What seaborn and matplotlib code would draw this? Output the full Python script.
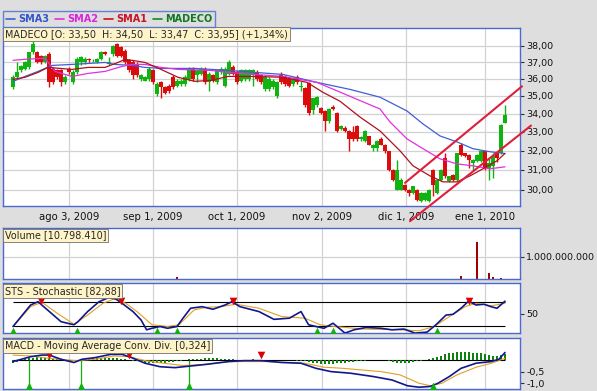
import numpy as np
import matplotlib
matplotlib.use("Agg")
import matplotlib.pyplot as plt
import seaborn as sns
from matplotlib.lines import Line2D
from matplotlib.ticker import FixedLocator, NullLocator

sns.set_style("white")
plt.rcParams['font.family'] = ['DejaVu Sans']

# ---------------- data ----------------
opens = [35.5, 36.1, 36.5, 36.6, 36.7, 37.6, 37.65, 37.4, 37.0, 37.5,
         36.6, 36.5, 36.5, 35.8, 36.6, 35.8, 36.4, 37.0, 37.0, 37.2,
         37.1, 37.0, 37.2, 37.65, 36.9, 37.5, 38.1, 37.9, 37.7, 37.1,
         37.0, 36.9, 36.0, 35.9, 36.0, 36.5, 35.1, 35.8, 35.5, 35.6,
         36.1, 35.6, 35.7, 35.7, 36.0, 36.6, 36.2, 36.3, 36.6, 35.8,
         36.2, 35.8, 36.4, 35.6, 36.3, 36.7, 36.4, 35.9, 36.0, 36.0,
         36.2, 36.4, 36.2, 35.4, 35.4, 35.5, 35.0, 36.2, 36.1, 36.0,
         35.7, 36.1, 35.5, 35.46, 35.76, 34.2, 34.5, 34.33, 34.15, 33.6,
         34.4, 34.05, 33.13, 33.22, 33.05, 33.0, 33.3, 32.6, 32.5, 32.77,
         32.14, 32.14, 32.59, 32.32, 31.96, 31.0, 30.0, 30.0, 30.25, 30.0,
         29.84, 30.0, 29.44, 29.52, 29.44, 31.0, 29.84, 30.5, 31.61, 30.42,
         30.75, 30.5, 32.32, 31.88, 31.79, 31.35, 31.44, 31.44, 31.96, 31.09,
         31.18, 31.88, 31.88, 33.5]
closes = [36.1, 36.4, 36.75, 37.0, 37.6, 38.1, 37.0, 37.0, 37.4, 35.8,
          35.8, 36.1, 35.8, 36.1, 36.4, 36.4, 37.2, 37.3, 37.2, 37.1,
          37.12, 37.2, 37.6, 37.5, 37.0, 38.0, 37.4, 37.4, 37.0, 36.5,
          36.2, 36.2, 36.2, 36.1, 36.6, 35.8, 35.7, 35.5, 35.2, 35.3,
          35.5, 35.9, 35.9, 36.1, 36.6, 36.0, 36.5, 36.6, 35.8, 36.3,
          35.9, 36.5, 36.6, 36.6, 37.0, 36.3, 35.8, 36.5, 36.5, 36.5,
          36.5, 36.0, 35.8, 36.1, 36.0, 35.9, 35.8, 35.8, 35.7, 35.6,
          36.0, 35.8, 35.6, 34.5, 34.05, 34.87, 34.96, 34.05, 33.6, 34.24,
          34.24, 33.05, 33.31, 33.05, 32.6, 32.6, 32.6, 32.7, 33.04, 32.32,
          32.32, 32.5, 32.32, 31.96, 31.0, 30.5, 31.0, 30.5, 30.0, 29.84,
          30.17, 29.52, 29.84, 29.84, 30.0, 30.25, 30.5, 31.0, 30.67, 30.67,
          30.5, 31.88, 31.79, 31.7, 31.53, 31.53, 31.79, 31.96, 31.09, 31.35,
          31.7, 31.61, 33.4, 33.95]
highs = [36.2, 37.0, 36.8, 37.05, 37.65, 38.3, 37.7, 37.45, 37.45, 37.6,
         36.7, 36.6, 36.6, 36.2, 36.7, 36.5, 37.3, 37.4, 37.3, 37.25,
         37.2, 37.25, 37.7, 37.7, 37.3, 38.05, 38.2, 38.0, 37.8, 37.2,
         37.1, 37.0, 36.3, 36.15, 36.7, 36.6, 35.8, 35.9, 35.6, 35.7,
         36.2, 36.0, 36.0, 36.2, 36.7, 36.7, 36.6, 36.7, 36.7, 36.4,
         36.3, 36.6, 36.7, 36.7, 37.1, 36.8, 36.5, 36.6, 36.6, 36.6,
         36.6, 36.5, 36.3, 36.2, 36.1, 36.0, 35.9, 36.4, 36.2, 36.1,
         36.1, 36.2, 35.9, 35.5, 35.8, 34.9, 35.0, 34.4, 34.2, 34.3,
         34.5, 34.1, 33.4, 33.3, 33.1, 33.3, 33.35, 32.8, 33.1, 32.8,
         32.35, 32.55, 32.7, 32.35, 32.0, 31.05, 31.5, 30.6, 30.3, 30.05,
         30.2, 30.05, 29.9, 29.9, 30.05, 31.05, 30.55, 31.05, 31.88, 30.7,
         30.8, 31.9, 32.41, 31.9, 31.8, 31.55, 31.8, 32.0, 32.0, 31.61,
         31.9, 31.9, 33.45, 34.5]
lows = [35.4, 36.0, 36.4, 36.5, 36.6, 37.5, 36.95, 36.9, 36.95, 35.5,
        35.7, 36.0, 35.6, 35.7, 36.3, 35.7, 36.3, 36.8, 36.9, 37.0,
        37.0, 36.95, 37.15, 37.45, 36.8, 37.4, 37.3, 37.3, 36.9, 36.4,
        36.0, 36.1, 35.9, 35.85, 35.9, 35.7, 35.0, 34.9, 35.1, 35.2,
        35.4, 35.5, 35.6, 35.6, 35.9, 35.9, 35.8, 36.2, 35.7, 35.3,
        35.8, 35.7, 36.3, 35.5, 36.2, 36.2, 35.7, 35.8, 35.9, 35.9,
        35.6, 35.9, 35.7, 35.3, 35.3, 35.4, 34.9, 35.7, 35.6, 35.5,
        35.6, 35.7, 35.3, 34.4, 33.95, 34.0, 34.4, 34.0, 33.05, 33.5,
        34.2, 33.0, 33.1, 33.0, 32.0, 32.5, 32.5, 32.5, 32.45, 32.3,
        32.0, 32.0, 32.3, 31.9, 30.95, 30.45, 30.0, 30.0, 29.95, 29.7,
        29.8, 29.45, 29.4, 29.45, 29.4, 29.7, 29.8, 30.45, 30.6, 30.4,
        30.45, 30.45, 31.7, 31.65, 31.1, 31.0, 31.4, 31.4, 31.0, 30.5,
        30.58, 31.4, 31.8, 33.47]

date_labels = ["ago 3, 2009", "sep 1, 2009", "oct 1, 2009",
               "nov 2, 2009", "dic 1, 2009", "ene 1, 2010"]
date_pos = [14, 35, 56, 77.25, 98.25, 118]
price_ticks = [30, 31, 32, 33, 34, 35, 36, 37, 38]

sma1_x = [0, 3, 6.25, 8.75, 14.75, 18.75, 23, 26.25, 28, 29.75, 33, 37, 41.25,
          45.5, 49.5, 53.75, 60.5, 67.5, 73.5, 77.5, 81.75, 86.75, 91.75,
          96.75, 100, 104.25, 107.5, 111, 114.25, 117.5, 121, 123]
sma1_y = [35.97, 36.09, 36.38, 36.68, 36.56, 36.68, 36.68, 36.98, 37.17, 37.11,
          36.98, 36.56, 36.09, 35.85, 35.91, 36.14, 36.14, 36.09, 35.79, 35.21,
          34.70, 33.81, 33.05, 31.99, 31.21, 30.70, 30.40, 30.40, 30.70, 31.06,
          31.47, 31.85]
sma2_x = [0, 3, 8, 10.5, 14.75, 18.75, 23, 27.25, 29.75, 33, 37, 41.25, 49.5,
          53.75, 60.5, 67.5, 76, 84.25, 91.75, 94.25, 98.5, 102.5, 106.75,
          111, 115, 119.25, 123]
sma2_y = [37.11, 37.17, 37.24, 36.44, 36.14, 36.32, 36.44, 36.74, 36.86, 36.86,
          36.68, 36.56, 36.50, 36.38, 36.26, 36.14, 35.79, 34.98, 34.26, 33.54,
          32.62, 32.10, 31.57, 31.31, 31.21, 31.06, 31.16]
sma3_x = [0, 3, 6.25, 9.75, 14.75, 23, 25.5, 29.75, 33, 37, 45.5, 53.75, 60.5,
          67.5, 76, 84.25, 91.75, 98.5, 102.5, 106.75, 111, 115, 119.25, 123]
sma3_y = [35.85, 36.14, 36.44, 36.80, 36.86, 36.98, 36.86, 36.80, 36.68, 36.62,
          36.62, 36.50, 36.38, 36.26, 35.79, 35.38, 34.93, 34.15, 33.43, 32.78,
          32.46, 32.10, 31.94, 31.85]

trend_up_x = [98, 127.25]
trend_up_y = [30.35, 35.56]
trend_lo_x = [99.25, 129.5]
trend_lo_y = [28.5, 33.34]

vol_idx = [41, 112, 116, 119, 120, 122]
vol_val = [0.09e9, 0.13e9, 1.67e9, 0.25e9, 0.10e9, 0.05e9]

sts_x = [0, 4.4, 6.25, 9.1, 12, 15.25, 16.25, 18.65, 21.5, 23.9, 25.75, 27.25,
         30, 32, 33.4, 34.75, 36.75, 38.65, 41, 42.5, 44.4, 47.25, 50, 53,
         54.75, 56.75, 61.5, 65.25, 69.1, 72, 73.9, 75.75, 77.75, 80, 83,
         85.25, 88.25, 92, 94.75, 97.75, 100.5, 103.5, 105.75, 108.25, 110,
         112, 113.9, 115.75, 117.75, 119.5, 121, 123]
sts_k = [17.5, 73, 81.5, 56, 30, 22, 30, 56, 81.5, 92, 88.5, 77.5,
         56, 34.6, 9, 13, 17.5, 13, 17.5, 39, 64.6, 68.7, 62, 73,
         81.5, 68.7, 56, 36, 39, 56, 22, 17.5, 13, 26, 0.5,
         9, 15, 13, 9, 11, 0.5, 3, 22, 47, 49,
         64.6, 83, 73, 75, 68.7, 64.6, 82.9]
std_x = [0, 4.4, 7.25, 11, 15.25, 18.65, 22.5, 25.25, 28.2, 31, 34.75, 38.65,
         41.5, 45.25, 48.2, 52, 55.75, 61.5, 67.25, 73, 76.75, 80.5, 87.25,
         96.75, 101.5, 105.25, 109.1, 113, 115.75, 119.5, 123]
std_d = [17.5, 68.7, 80, 52, 23.6, 47, 77.5, 88.5, 77.5, 56, 22, 17.5,
         22, 60, 67, 68.7, 75, 64.6, 43, 39, 22, 17.5, 11,
         9, 6.4, 17.5, 43, 68.7, 77.5, 71, 77.5]
sts_sell = [7, 27, 55, 114]
sts_buy = [0, 16, 36, 41, 76, 80, 106]

macd_x = [0, 4.4, 7.25, 9.1, 12, 15.25, 17.25, 20.5, 24.4, 27.25, 29.5, 33,
          36.75, 40.5, 44.4, 48.25, 53.9, 57.75, 62, 67.25, 72, 75.75, 79.5,
          84.4, 90, 94.75, 98.65, 101.5, 104.25, 106.25, 109.1, 112, 115.75,
          119.5, 121.5, 123]
macd_v = [-0.07, 0.14, 0.21, 0.21, 0.03, -0.11, 0.03, 0.10, 0.24, 0.24, 0.11,
          -0.14, -0.29, -0.33, -0.26, -0.19, -0.07, -0.03, -0.03, -0.11, -0.14,
          -0.36, -0.50, -0.57, -0.71, -0.86, -1.11, -1.17, -1.14, -1.00, -0.71,
          -0.36, -0.14, -0.07, 0.03, 0.32]
sig_x = [0, 4.4, 9.1, 15.8, 20.5, 25.3, 29.1, 33, 37.7, 42.5, 48.2, 53.9,
         63.4, 72.9, 77.7, 82.5, 87.2, 92, 96.75, 101.5, 104.4, 107.2, 111,
         115.8, 119.6, 123]
sig_v = [0.21, 0.17, 0.07, -0.03, 0.03, 0.17, 0.14, -0.03, -0.14, -0.24, -0.19,
         -0.07, -0.07, -0.14, -0.31, -0.36, -0.43, -0.50, -0.64, -1.0, -1.11,
         -1.0, -0.64, -0.31, -0.14, 0.07]
hist_v = [-0.12, -0.10, 0.0, 0.03,
          0.08, 0.1, 0.12, 0.12, 0.1, 0.08,
          0.03, 0.02, -0.02, -0.04, -0.05, -0.03, 0.0,
          0.03, 0.05, 0.06, 0.07, 0.08, 0.09, 0.1, 0.1, 0.09, 0.08, 0.06, 0.04,
          0.0, -0.03,
          -0.06, -0.09, -0.11, -0.13, -0.14, -0.14, -0.13, -0.12, -0.1, -0.08, -0.06, -0.04,
          -0.01,
          0.02, 0.04, 0.05, 0.06, 0.07, 0.08, 0.08, 0.07, 0.06, 0.05, 0.04, 0.03,
          0.01, 0.0, -0.01, 0.01, 0.02, 0.01, 0.0, -0.01, -0.02, -0.01, 0.0, 0.01,
          0.0, -0.01, -0.02, -0.03, -0.04, -0.06,
          -0.09, -0.12, -0.15, -0.17, -0.18, -0.17, -0.16, -0.15, -0.14, -0.12,
          -0.1, -0.08, -0.06, -0.05, -0.04, -0.02,
          0.0, 0.01, 0.0, -0.02, -0.05,
          -0.09, -0.12, -0.14, -0.14, -0.12, -0.1, -0.06,
          -0.03, 0.0, 0.03,
          0.07, 0.12, 0.18, 0.24, 0.29, 0.32, 0.34, 0.35, 0.35, 0.34, 0.32, 0.3,
          0.28, 0.26, 0.22, 0.17, 0.15, 0.2,
          0.26]
macd_sell = [9, 29, 62]
macd_buy = [4, 17, 44, 105]
macd_buy_lines = [4, 17, 44]

# ---------------- style ----------------
BG = '#dedede'
BORDER = '#4a6ad0'
GRID = '#d2d2d2'
GREEN = '#10b410'
RED = '#dc0c0c'
BOX = dict(boxstyle='square,pad=0.18', fc='#fff3c8', ec='#707070', lw=0.6)
XL = (-2.5, 126.75)
YFS = 6.8

fig = plt.figure(figsize=(5.97, 3.91), dpi=100, facecolor=BG)
L, W = 3 / 597, 517 / 597
ax = fig.add_axes([L, 1 - 206 / 391, W, 178 / 391])
axv = fig.add_axes([L, 1 - 279 / 391, W, 51 / 391])
axs = fig.add_axes([L, 1 - 333.3 / 391, W, 50 / 391])
axm = fig.add_axes([L, 1 - 389.3 / 391, W, 51 / 391])

for a in (ax, axv, axs, axm):
    a.set_facecolor('white')
    a.set_xlim(*XL)
    for s in a.spines.values():
        s.set_color(BORDER)
        s.set_linewidth(1.0)
    a.xaxis.set_major_locator(FixedLocator(date_pos))
    a.grid(True, axis='x', color=GRID, lw=0.9)
    a.yaxis.tick_right()
    a.tick_params(axis='y', which='major', length=3, width=0.8, color='#333333',
                  labelsize=YFS, pad=1.5, labelcolor='#111111')
    a.tick_params(axis='x', length=0)
    a.set_axisbelow(True)

# ---- main price panel ----
ax.set_yscale('log')
ax.set_ylim(29.22, 39.13)
ax.yaxis.set_major_locator(FixedLocator(price_ticks))
ax.yaxis.set_minor_locator(NullLocator())
ax.set_yticklabels([f"{t:.2f}".replace('.', ',') for t in price_ticks])
ax.grid(True, axis='y', color=GRID, lw=0.9)
ax.set_xticklabels(date_labels, fontsize=7.3)
ax.tick_params(axis='x', pad=4, labelcolor='#111111')

o = np.array(opens); c = np.array(closes)
h = np.array(highs); lo = np.array(lows)
idx = np.arange(len(o))
cols = np.where(c >= o, GREEN, RED)
ax.vlines(idx, lo, h, colors=cols, lw=1.0, zorder=3)
ax.bar(idx, np.maximum(np.abs(c - o), 0.05), bottom=np.minimum(o, c), width=0.76,
       color=cols, lw=0, zorder=3)

sns.lineplot(x=sma3_x, y=sma3_y, ax=ax, color='#3f5fd6', lw=0.9, estimator=None, sort=False, zorder=4)
sns.lineplot(x=sma2_x, y=sma2_y, ax=ax, color='#e030e0', lw=0.9, estimator=None, sort=False, zorder=4)
sns.lineplot(x=sma1_x, y=sma1_y, ax=ax, color='#b0101e', lw=0.9, estimator=None, sort=False, zorder=4)
ax.plot(trend_up_x, trend_up_y, color='#dd1f3c', lw=1.5, clip_on=False, zorder=5)
ax.plot(trend_lo_x, trend_lo_y, color='#dd1f3c', lw=1.5, clip_on=False, zorder=5)
ax.set_xlabel(''); ax.set_ylabel('')
ax.text(0.004, 0.995, "MADECO [O: 33,50  H: 34,50  L: 33,47  C: 33,95] (+1,34%)",
        transform=ax.transAxes, ha='left', va='top', fontsize=6.9, bbox=BOX, zorder=10)

# legend
handles = [Line2D([], [], color='#3f5fd6', lw=1.2), Line2D([], [], color='#e030e0', lw=1.2),
           Line2D([], [], color='#cc1020', lw=1.2), Line2D([], [], color='#118822', lw=1.2)]
names = ['SMA3', 'SMA2', 'SMA1', 'MADECO']
leg = fig.legend(handles, names, loc='upper left', bbox_to_anchor=(3 / 597, 1 - 11 / 391),
                 ncol=4, frameon=True, handlelength=0.95, handletextpad=0.3,
                 columnspacing=0.6, borderpad=0.3, borderaxespad=0, fancybox=False,
                 facecolor=BG, edgecolor=BORDER, prop={'weight': 'bold', 'size': 7})
leg.get_frame().set_linewidth(1.0)
for t, col in zip(leg.get_texts(), ['#3355cc', '#dd22dd', '#cc1122', '#117722']):
    t.set_color(col)

# ---- volume ----
axv.set_ylim(0, 2.29e9)
axv.yaxis.set_major_locator(FixedLocator([1e9]))
axv.set_yticklabels(['1.000.000.000'])
axv.grid(True, axis='y', color=GRID, lw=0.9)
axv.set_xticklabels([])
axv.bar(vol_idx, vol_val, width=0.45, color='#a00000', lw=0)
axv.text(0.004, 0.95, "Volume [10.798.410]", transform=axv.transAxes, ha='left', va='top',
         fontsize=6.9, bbox=BOX, zorder=10)

# ---- stochastic ----
axs.set_ylim(0, 129)
axs.yaxis.set_major_locator(FixedLocator([50]))
axs.set_yticklabels(['50'])
axs.set_xticklabels([])
axs.hlines([80, 20], 0, 123, colors='black', lw=0.8, zorder=2)
sns.lineplot(x=std_x, y=std_d, ax=axs, color='#e0a020', lw=0.8, estimator=None, sort=False, zorder=3)
sns.lineplot(x=sts_x, y=sts_k, ax=axs, color='#101890', lw=1.2, estimator=None, sort=False, zorder=4)
axs.scatter(sts_sell, [84] * len(sts_sell), marker='v', s=30, color='#dd0000', lw=0, zorder=6)
axs.scatter(sts_buy, [5] * len(sts_buy), marker='^', s=30, color='#10b010', lw=0, zorder=6)
axs.set_xlabel(''); axs.set_ylabel('')
axs.text(0.004, 0.95, "STS - Stochastic [82,88]", transform=axs.transAxes, ha='left', va='top',
         fontsize=6.9, bbox=BOX, zorder=10)

# ---- MACD ----
axm.set_ylim(-1.26, 0.93)
axm.yaxis.set_major_locator(FixedLocator([-0.5, -1.0]))
axm.set_yticklabels(['-0,5', '-1,0'])
axm.set_xticklabels([])
axm.hlines([0], 0, 123, colors='black', lw=0.8, zorder=2)
axm.bar(idx, hist_v, width=0.45, color='#108010', lw=0, zorder=3)
axm.vlines(macd_buy_lines, -1.12, 0, colors='#10b010', lw=0.9, zorder=3)
sns.lineplot(x=sig_x, y=sig_v, ax=axm, color='#e0a020', lw=0.8, estimator=None, sort=False, zorder=4)
sns.lineplot(x=macd_x, y=macd_v, ax=axm, color='#101890', lw=1.2, estimator=None, sort=False, zorder=5)
axm.scatter(macd_sell, [0.2] * len(macd_sell), marker='v', s=30, color='#dd0000', lw=0, zorder=6)
axm.scatter(macd_buy, [-1.12] * len(macd_buy), marker='^', s=30, color='#10b010', lw=0, zorder=6)
axm.set_xlabel(''); axm.set_ylabel('')
axm.text(0.004, 0.95, "MACD - Moving Average Conv. Div. [0,324]", transform=axm.transAxes,
         ha='left', va='top', fontsize=6.9, bbox=BOX, zorder=10)

fig.savefig('out.png', dpi=100, facecolor=BG)
